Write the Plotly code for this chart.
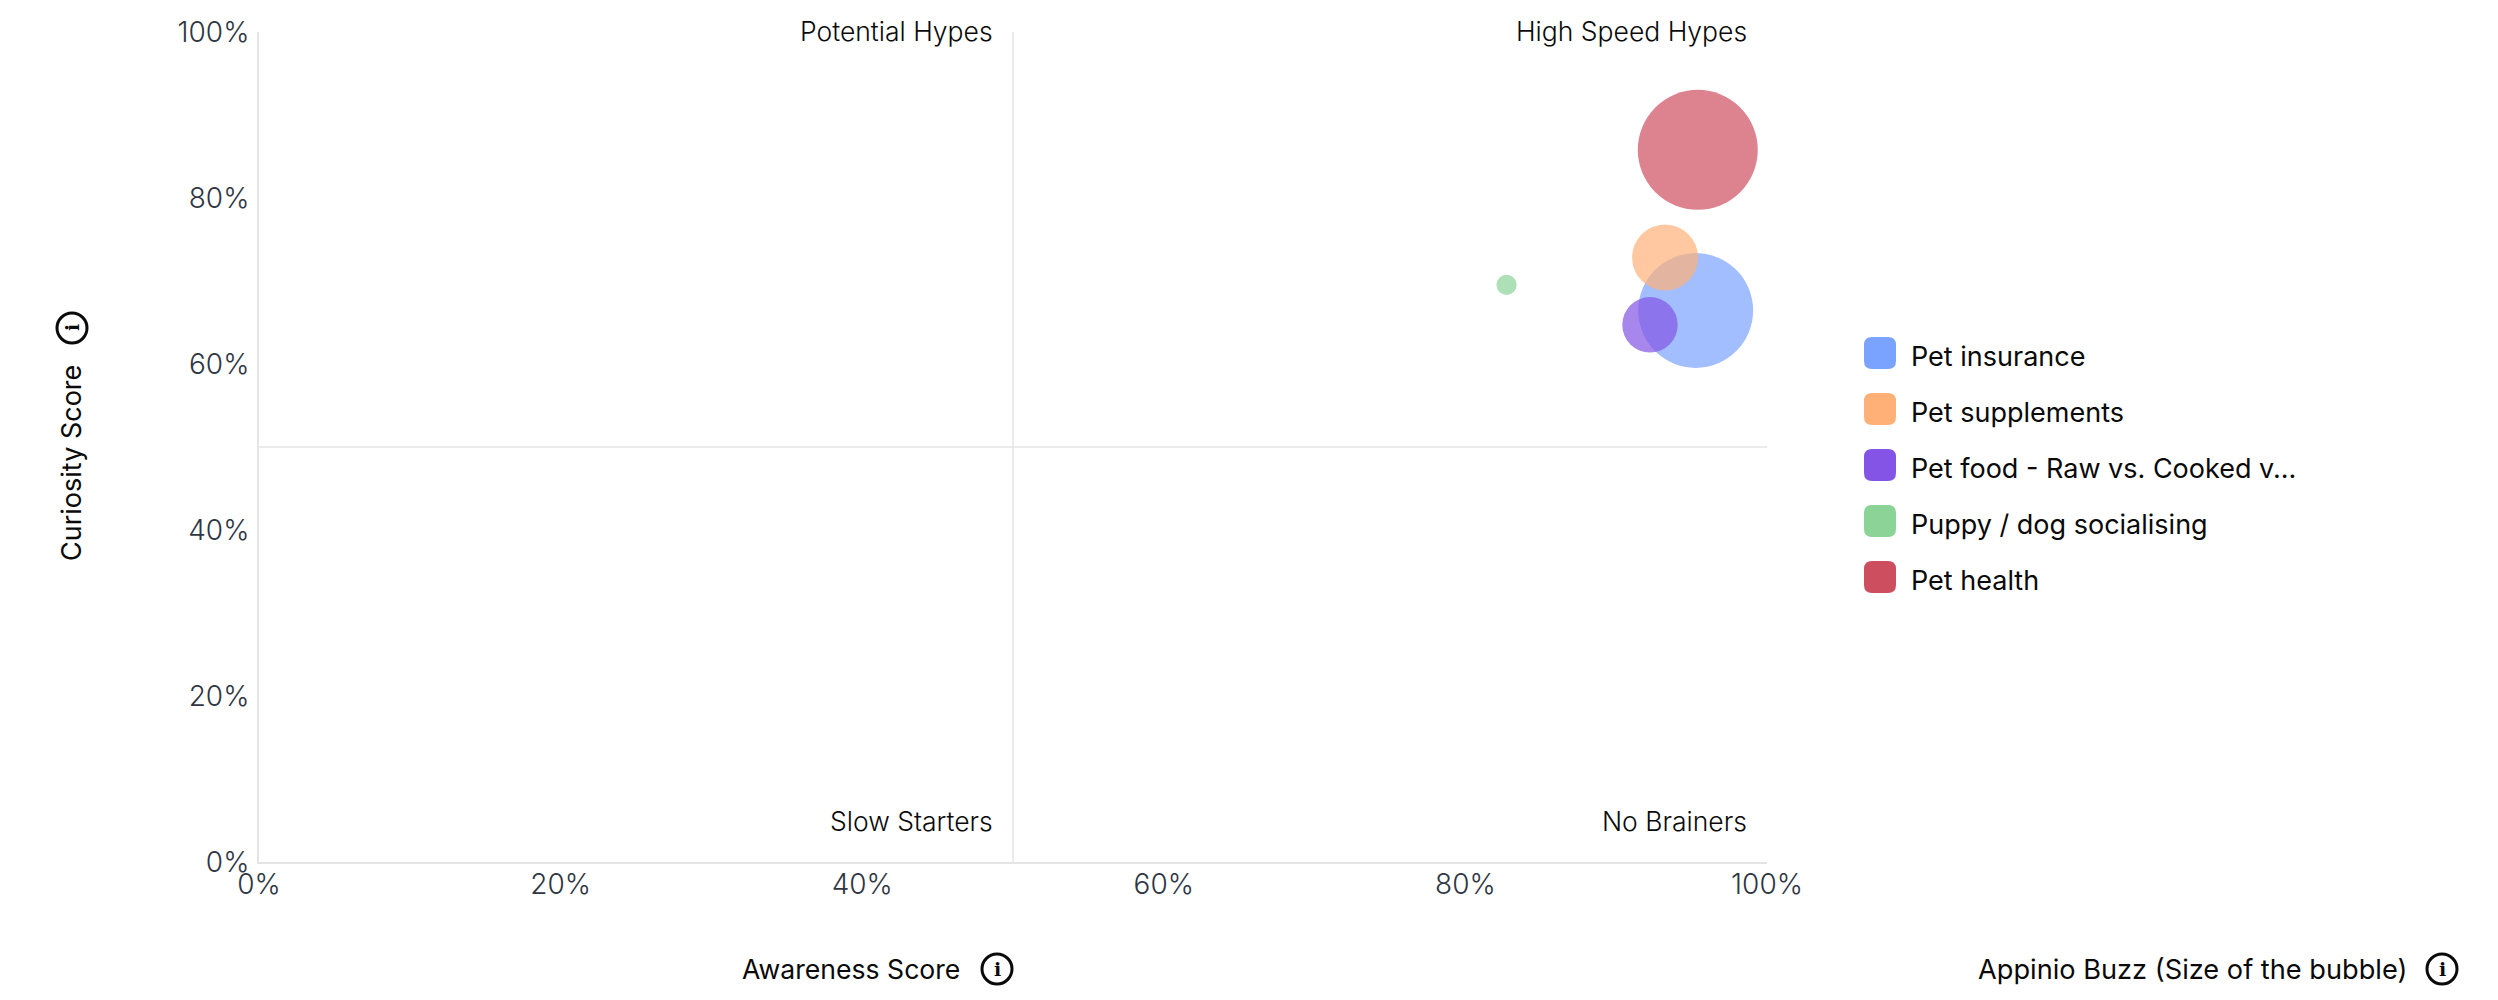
"""Awareness vs curiosity bubble chart with quadrant labels."""

import plotly.graph_objects as go

topics = ["Pet insurance", "Pet supplements", "Pet food - Raw vs. Cooked v...",
          "Puppy / dog socialising", "Pet health"]
awareness = [95.27, 93.24, 92.24, 82.73, 95.41]
curiosity = [66.45, 72.83, 64.72, 69.54, 85.8]
buzz = [13.2, 4.36, 3.07, 0.41, 14.4]
colors = ["#7aa2ff", "#ffb077", "#8354e6", "#8cd398", "#cd4f5f"]
axis_ticks = [0, 20, 40, 60, 80, 100]
axis_labels = ["0%", "20%", "40%", "60%", "80%", "100%"]

quadrants = [("Potential Hypes", 50, 100), ("High Speed Hypes", 100, 100),
             ("Slow Starters", 50, 0), ("No Brainers", 100, 0)]

WIDTH, HEIGHT = 2498, 1000
LEFT, RIGHT, TOP, BOTTOM = 259, 1767, 32, 862
FONT = "Inter"
GREY = "#e5e5e5"


def px(x):
    return (x - LEFT) / (RIGHT - LEFT)


def py(y):
    return (BOTTOM - y) / (BOTTOM - TOP)


def label(text, x, y, size=27, **kw):
    return dict(text=text, x=px(x), y=py(y), xref="paper", yref="paper", showarrow=False,
                font=dict(family=FONT, size=size, color="#0a0a0a"), **kw)


def info_icon(cx, cy, rotated=False):
    """Circled i next to an axis caption."""
    r = 15
    shape = dict(type="circle", xref="paper", yref="paper", x0=px(cx - r), x1=px(cx + r),
                 y0=py(cy + r), y1=py(cy - r), line=dict(color="#0a0a0a", width=3))
    glyph = dict(text="<b>i</b>", x=px(cx), y=py(cy), xref="paper", yref="paper", showarrow=False,
                 xanchor="center", yanchor="middle", textangle=-90 if rotated else 0,
                 font=dict(family="DejaVu Serif", size=19, color="#0a0a0a"))
    return shape, glyph


fig = go.Figure()
for name, xv, yv, b, c in zip(topics, awareness, curiosity, buzz, colors):
    fig.add_trace(go.Scatter(
        x=[xv], y=[yv], mode="markers", name=name, showlegend=False,
        marker=dict(size=[b], sizemode="area", sizeref=0.002, color=c, opacity=0.7,
                    line=dict(width=0)),
        cliponaxis=False,
    ))

shapes = [
    dict(type="line", xref="x", yref="y", x0=50, x1=50, y0=0, y1=100, line=dict(color=GREY, width=1.5)),
    dict(type="line", xref="x", yref="y", x0=0, x1=100, y0=50, y1=50, line=dict(color=GREY, width=1.5)),
]
annotations = []

for text, qx, qy in quadrants:
    annotations.append(dict(text=text, x=qx, y=qy, xref="x", yref="y", showarrow=False,
                            xanchor="right", yanchor="middle", xshift=-18,
                            yshift=1 if qy == 100 else 41,
                            font=dict(family=FONT, size=26.5, weight=300, color="#0a0a0a")))

# hand drawn legend, plotly's own swatches cannot be this large or rounded
for i, (name, c) in enumerate(zip(topics, colors)):
    x0, y0 = 1864, 337 + 56 * i
    x1, y1 = x0 + 32, y0 + 32
    r = 8
    path = (f"M {px(x0 + r)} {py(y0)} L {px(x1 - r)} {py(y0)} Q {px(x1)} {py(y0)} {px(x1)} {py(y0 + r)} "
            f"L {px(x1)} {py(y1 - r)} Q {px(x1)} {py(y1)} {px(x1 - r)} {py(y1)} "
            f"L {px(x0 + r)} {py(y1)} Q {px(x0)} {py(y1)} {px(x0)} {py(y1 - r)} "
            f"L {px(x0)} {py(y0 + r)} Q {px(x0)} {py(y0)} {px(x0 + r)} {py(y0)} Z")
    shapes.append(dict(type="path", xref="paper", yref="paper", path=path,
                       fillcolor=c, line=dict(width=0)))
    annotations.append(label(name, 1909, y0 + 19.5, xanchor="left", yanchor="middle"))

annotations.append(label("Awareness Score", 962, 969, size=26.6, xanchor="right", yanchor="middle"))
annotations.append(label("Curiosity Score", 72, 463, textangle=-90, xanchor="center", yanchor="middle"))
annotations.append(label("Appinio Buzz (Size of the bubble)", 2409, 969, size=27.2, xanchor="right", yanchor="middle"))
for cx, cy, rotated in [(997, 969, False), (72, 328, True), (2442, 969, False)]:
    circle, glyph = info_icon(cx, cy, rotated)
    shapes.append(circle)
    annotations.append(glyph)

axis = dict(
    range=[0, 100], tickmode="array", tickvals=axis_ticks, ticktext=axis_labels,
    showgrid=False, zeroline=False, showline=True, linecolor=GREY, linewidth=2,
    ticks="outside", tickcolor="rgba(0,0,0,0)",
    tickfont=dict(family=FONT, size=28, weight=300, color="#2f3644"),
)
fig.update_xaxes(ticklen=1, ticklabelstandoff=-5, **axis)
fig.update_yaxes(ticklen=2, **axis)
fig.update_layout(
    width=WIDTH, height=HEIGHT, showlegend=False,
    margin=dict(l=LEFT, r=WIDTH - RIGHT, t=TOP, b=HEIGHT - BOTTOM, autoexpand=False),
    paper_bgcolor="white", plot_bgcolor="white",
    shapes=shapes, annotations=annotations,
)
fig.write_html("out.html", post_script="document.body.style.margin='0';",
               config=dict(displayModeBar=False))
